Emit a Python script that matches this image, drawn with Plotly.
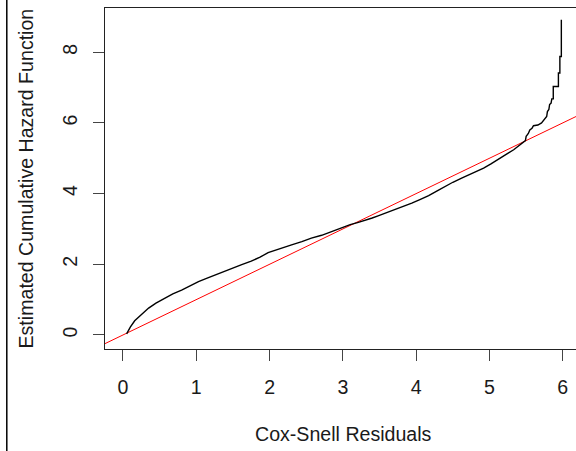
import plotly.graph_objects as go
import numpy as np

# Nelson-Aalen cumulative hazard of the Cox-Snell residuals.
# Dense part traced as a polyline; the sparse upper tail keeps its
# explicit step corners (repeated x for vertical jumps).
resid = [0.05, 0.10, 0.16, 0.25, 0.35, 0.45, 0.57, 0.68, 0.80, 0.91,
         1.03, 1.14, 1.26, 1.38, 1.50, 1.62, 1.75, 1.87, 1.98, 2.10,
         2.20, 2.30, 2.44, 2.57, 2.71, 2.85, 2.98, 3.10, 3.20, 3.30,
         3.40, 3.48, 3.60, 3.71, 3.82, 3.94, 4.05, 4.17, 4.28, 4.39,
         4.50, 4.62, 4.72, 4.80, 4.92, 5.02, 5.12, 5.20, 5.26, 5.33,
         5.39, 5.46, 5.49, 5.50, 5.53, 5.55, 5.58, 5.60, 5.66, 5.71,
         5.73, 5.76, 5.78, 5.79, 5.81, 5.82, 5.84, 5.85, 5.87, 5.87,
         5.94, 5.94, 5.96, 5.96, 5.98, 5.98]
cumhaz = [0.03, 0.22, 0.40, 0.58, 0.76, 0.90, 1.04, 1.16, 1.27, 1.39,
          1.51, 1.60, 1.70, 1.81, 1.90, 1.99, 2.09, 2.20, 2.33, 2.42,
          2.48, 2.55, 2.64, 2.74, 2.82, 2.93, 3.03, 3.12, 3.18, 3.24,
          3.31, 3.37, 3.46, 3.56, 3.64, 3.73, 3.83, 3.94, 4.07, 4.20,
          4.32, 4.44, 4.53, 4.61, 4.72, 4.84, 4.96, 5.06, 5.15, 5.24,
          5.33, 5.43, 5.50, 5.62, 5.70, 5.80, 5.85, 5.92, 5.94, 6.00,
          6.05, 6.15, 6.18, 6.32, 6.38, 6.52, 6.56, 6.68, 6.68, 7.03,
          7.03, 7.41, 7.41, 7.88, 7.88, 8.92]

# Reference line: abline(0, 1)
ref_intercept = 0.0
ref_slope = 1.0

x_ticks = [0, 1, 2, 3, 4, 5, 6]
y_ticks = [0, 2, 4, 6, 8]

x_range = [-0.245, 6.18]
y_range = [-0.397, 9.25]

text_col = "#1a1a1a"
font_family = "Liberation Sans, Arial, sans-serif"
fsize = 19.6

fig = go.Figure()

ref_x = np.array(x_range)
fig.add_trace(go.Scatter(
    x=ref_x, y=ref_intercept + ref_slope * ref_x,
    mode="lines", line=dict(color="#ff0000", width=1),
    hoverinfo="skip", showlegend=False,
))

fig.add_trace(go.Scatter(
    x=resid, y=cumhaz, mode="lines",
    line=dict(color="#000000", width=1.4),
    showlegend=False,
))

fig.update_xaxes(
    range=x_range, tickvals=x_ticks, ticktext=[str(v) for v in x_ticks],
    showgrid=False, zeroline=False,
    showline=True, mirror=True, linecolor="#222222", linewidth=1,
    ticks="outside", ticklen=11, tickwidth=1, tickcolor="#444444",
    tickfont=dict(size=fsize, color=text_col, family=font_family),
    ticklabelstandoff=9,
)
fig.update_yaxes(
    range=y_range, tickvals=y_ticks, ticktext=[str(v) for v in y_ticks],
    showgrid=False, zeroline=False,
    showline=True, mirror=False, linecolor="#222222", linewidth=1,
    ticks="outside", ticklen=11, tickwidth=1, tickcolor="#444444",
    tickangle=-90,
    tickfont=dict(size=fsize, color=text_col, family=font_family),
    ticklabelstandoff=8,
)

# Outer page border on the left
fig.add_shape(type="line", xref="paper", yref="paper",
              x0=-0.2085, x1=-0.2085, y0=-0.4, y1=1.1,
              line=dict(color="#000000", width=1.5))

fig.add_annotation(
    text="Cox-Snell Residuals", xref="paper", yref="paper",
    x=(343 - 105) / 471, y=-(434 - 349) / 341, showarrow=False,
    font=dict(size=fsize, color=text_col, family=font_family),
    xanchor="center", yanchor="middle",
)
fig.add_annotation(
    text="Estimated Cumulative Hazard Function", xref="paper", yref="paper",
    x=-(105 - 25) / 471, y=0.5, showarrow=False, textangle=-90,
    font=dict(size=fsize, color=text_col, family=font_family),
    xanchor="center", yanchor="middle",
)

fig.update_layout(
    width=576, height=451,
    margin=dict(l=105, r=0, t=8, b=102),
    plot_bgcolor="white", paper_bgcolor="white",
    font=dict(family=font_family, color=text_col),
)

fig.write_html("out.html")
